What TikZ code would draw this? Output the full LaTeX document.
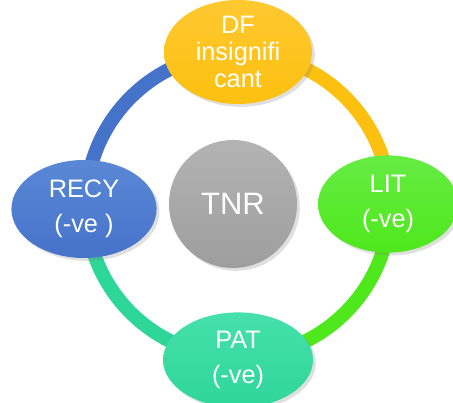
\documentclass[tikz,border=0pt]{standalone}
\usepackage{fontspec}
\setmainfont{Liberation Sans}
\usetikzlibrary{shapes.geometric,shadows}
\definecolor{dfyellow}{HTML}{FCC010}
\definecolor{dftop}{HTML}{FFC830}
\definecolor{recyblue}{HTML}{4673CA}
\definecolor{recytop}{HTML}{5A88D6}
\definecolor{litgreen}{HTML}{4EE81C}
\definecolor{littop}{HTML}{66EC44}
\definecolor{patteal}{HTML}{2ED69A}
\definecolor{pattop}{HTML}{46E0AC}
\definecolor{tnrgray}{HTML}{A6A6A6}
\tikzset{
    bubble/.style={ellipse,inner sep=0pt,text=white,align=center,
        drop shadow={opacity=0.25,shadow xshift=2pt,shadow yshift=-2pt}},
    ringline/.style={line width=0.35cm,
        preaction={draw=black,opacity=0.12,transform canvas={shift={(1.5pt,-2pt)}}}}
}
\begin{document}
\begin{tikzpicture}
        \useasboundingbox (0,0) rectangle (11.325,10.05);
        %% ring
        \coordinate (O) at (5.95,4.925);
        \draw[ringline,dfyellow] ([shift={(90:3.8)}]O) arc (90:0:3.8);
        \draw[ringline,litgreen] ([shift={(0:3.8)}]O) arc (0:-90:3.8);
        \draw[ringline,patteal] ([shift={(-90:3.8)}]O) arc (270:180:3.8);
        \draw[ringline,recyblue] ([shift={(180:3.8)}]O) arc (180:90:3.8);
        %% centre
        \node[circle,top color=tnrgray!85!white,bottom color=tnrgray!95!black,minimum size=3.2cm,text=white,
            font=\fontsize{22}{26}\selectfont,
            drop shadow={opacity=0.25,shadow xshift=2pt,shadow yshift=-2pt}] (TNR) at (5.825,4.95) {TNR};
        %% outer ellipses
        \node[bubble,top color=dftop,bottom color=dfyellow,minimum width=3.7cm,minimum height=2.6cm,
            font=\fontsize{18}{19.5}\selectfont] (DF) at (5.95,8.75) {DF\\insignifi\\cant};
        \node[bubble,top color=recytop,bottom color=recyblue,minimum width=3.63cm,minimum height=2.45cm,
            font=\fontsize{18}{25}\selectfont] (RECY) at (2.1,4.825) {RECY\\(-ve )};
        \node[bubble,top color=littop,bottom color=litgreen,minimum width=3.5cm,minimum height=2.43cm,
            font=\fontsize{18}{25}\selectfont] (LIT) at (9.7,4.95) {LIT\\(-ve)};
        \node[bubble,top color=pattop,bottom color=patteal,minimum width=3.75cm,minimum height=2.38cm,
            font=\fontsize{18}{25}\selectfont] (PAT) at (5.95,1.05) {PAT\\(-ve)};
    \end{tikzpicture}
\end{document}
